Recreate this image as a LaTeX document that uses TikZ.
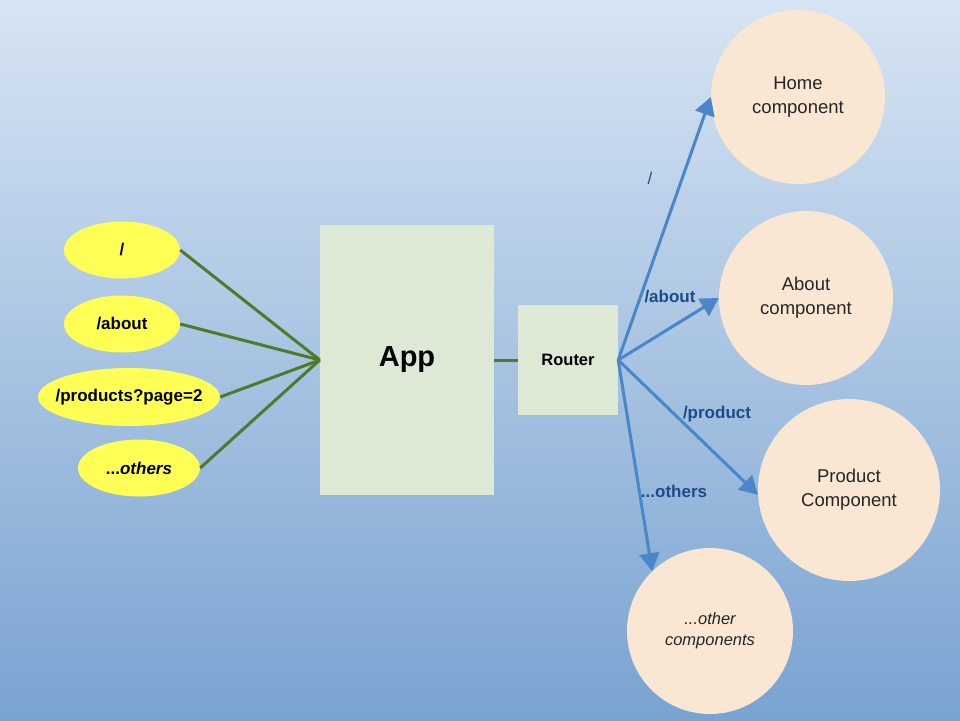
\documentclass[tikz,border=0pt]{standalone}
\usepackage{fontspec}
\setmainfont{Liberation Sans}
\usepackage{tikz}
\usetikzlibrary{arrows.meta}
\usetikzlibrary{shapes}
\usetikzlibrary{positioning}

\definecolor{bgtop}{RGB}{215,228,243}
\definecolor{bgbot}{RGB}{121,163,209}
\definecolor{urlyellow}{RGB}{255,255,85}
\definecolor{boxgreen}{RGB}{222,233,213}
\definecolor{wiregreen}{RGB}{80,122,42}
\definecolor{linkblue}{RGB}{74,134,200}
\definecolor{labelblue}{RGB}{30,75,135}
\definecolor{peach}{RGB}{249,230,211}

\tikzset{
    url/.style={ellipse, fill=urlyellow, inner sep=0pt, font=\fontsize{17}{20}\selectfont\bfseries},
    block/.style={rectangle, fill=boxgreen, inner sep=0pt},
    comp/.style={circle, fill=peach, inner sep=0pt, align=center, text=black!85,
                 font=\fontsize{18.5}{24}\selectfont},
    wire/.style={wiregreen, line width=3pt},
    go/.style={linkblue, line width=3pt, -{Triangle[length=18pt,width=20pt]}},
    tag/.style={text=labelblue, font=\fontsize{17}{20}\selectfont\bfseries}
}

\begin{document}
\begin{tikzpicture}[x=1pt, y=-1pt]
            \shade[top color=bgtop, bottom color=bgbot] (0,0) rectangle (960,720);
            \useasboundingbox (0,0) rectangle (960,720);

            \draw (122,250) node[url, minimum width=116pt, minimum height=57pt]   (root) {/};
            \draw (122,324) node[url, minimum width=116pt, minimum height=57pt]   (about) {/about};
            \draw (129,397) node[url, inner xsep=-11pt, minimum width=182pt, minimum height=58pt]   (prods) {/products?page=2};
            \draw (139,468) node[url, minimum width=122pt, minimum height=57pt]   (others) {...\textit{others}};

            \draw (407,360) node[block, minimum width=174pt, minimum height=270pt, font=\fontsize{29}{32}\selectfont\bfseries] (app) {App};
            \draw (568,360) node[block, minimum width=100pt, minimum height=110pt, font=\fontsize{16.5}{20}\selectfont\bfseries] (router) {Router};

            \draw (798,97) node[comp, minimum size=174pt]   (home) {Home\\component};
            \draw (806,298) node[comp, minimum size=174pt]  (aboutc) {About\\component};
            \draw (849,490) node[comp, minimum size=182pt]  (product) {Product\\Component};
            \draw (710,631) node[comp, minimum size=166pt, font=\fontsize{16.5}{21}\selectfont\itshape] (otherc) {...other\\components};

            \draw[wire] (root.east) -- (app.west);
            \draw[wire] (about.east) -- (app.west);
            \draw[wire] (prods.east) -- (app.west);
            \draw[wire] (others.east) -- (app.west);
            \draw[wire] (app.east) -- (router.west);

            \draw[go] (router.east) -- (home.west);
            \draw[go] (router.east) -- (aboutc.west);
            \draw[go] (router.east) -- (product.183);
            \draw[go] (router.east) -- (otherc.134);

            \draw (650,178) node[tag, font=\fontsize{17}{20}\selectfont] (t1) {/};
            \draw (670,297) node[tag] (t2) {/about};
            \draw (717,414) node[tag] (t3) {/product};
            \draw (674,491) node[tag] (t4) {...others};

            \end{tikzpicture}
\end{document}
